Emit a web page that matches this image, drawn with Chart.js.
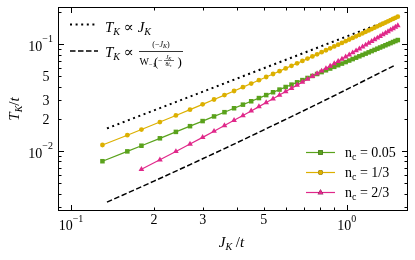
<!DOCTYPE html>
<html>
<head>
<meta charset="utf-8">
<script src="https://cdn.jsdelivr.net/npm/chart.js@4.4.0/dist/chart.umd.min.js"></script>
<style>
  html, body { margin: 0; padding: 0; background: #fff; }
  #wrap { width: 415px; height: 260px; }
</style>
</head>
<body>
<div id="wrap"><canvas id="chart" width="415" height="260"></canvas></div>
<script>
// J_K/t values shared by the three fillings
const jGrid = [0.13, 0.16, 0.18, 0.21, 0.24, 0.27, 0.30, 0.33, 0.36, 0.39,
    0.42, 0.45, 0.48, 0.51, 0.54, 0.57, 0.60, 0.63, 0.66, 0.69,
    0.72, 0.75, 0.78, 0.81, 0.84, 0.87, 0.90, 0.93, 0.96, 0.99,
    1.02, 1.05, 1.08, 1.11, 1.14, 1.17, 1.20, 1.23, 1.26, 1.29,
    1.32, 1.35, 1.38, 1.41, 1.44, 1.47, 1.50, 1.53];

// T_K/t, n_c = 0.05
const tNc005 = [0.00804, 0.00994, 0.01123, 0.01317, 0.01513, 0.01711, 0.01910, 0.02111, 0.02313, 0.02518,
    0.02721, 0.02927, 0.03135, 0.03344, 0.03555, 0.03765, 0.03979, 0.04190, 0.04403, 0.04618,
    0.04834, 0.05052, 0.05269, 0.05488, 0.05707, 0.05925, 0.06147, 0.06369, 0.06591, 0.06813,
    0.07038, 0.07263, 0.07487, 0.07715, 0.07943, 0.08171, 0.08398, 0.08629, 0.08858, 0.09087,
    0.09320, 0.09552, 0.09786, 0.1002, 0.1025, 0.1049, 0.1072, 0.1095];

// T_K/t, n_c = 1/3
const tNc13 = [0.01140, 0.01409, 0.01591, 0.01870, 0.02155, 0.02444, 0.02738, 0.03039, 0.03343, 0.03653,
    0.03968, 0.04286, 0.04607, 0.04937, 0.05268, 0.05604, 0.05943, 0.06283, 0.06631, 0.06982,
    0.07337, 0.07697, 0.08057, 0.08423, 0.08792, 0.09164, 0.09539, 0.09920, 0.1030, 0.1069,
    0.1108, 0.1147, 0.1186, 0.1226, 0.1266, 0.1306, 0.1347, 0.1388, 0.1429, 0.1471,
    0.1513, 0.1555, 0.1597, 0.1640, 0.1683, 0.1726, 0.1769, 0.1813];

// T_K/t, n_c = 2/3 (starts at J = 0.18)
const jNc23 = jGrid.slice(2);
const tNc23 = [0.00675, 0.00829, 0.00992, 0.01164, 0.01344, 0.01535, 0.01733, 0.01940, 0.02154, 0.02377,
    0.02607, 0.02846, 0.03090, 0.03344, 0.03605, 0.03871, 0.04145, 0.04426, 0.04716, 0.05012,
    0.05312, 0.05623, 0.05939, 0.06260, 0.06588, 0.06924, 0.07266, 0.07614, 0.07969, 0.08337,
    0.08703, 0.09075, 0.09461, 0.09847, 0.1024, 0.1064, 0.1104, 0.1146, 0.1187, 0.1230,
    0.1273, 0.1316, 0.1361, 0.1405, 0.1450, 0.1496];

// guide curves
const jLinear = [0.135, 1.5];
const tLinear = [0.0163, 0.177];
const jLambert = [0.135, 0.2, 0.3, 0.4, 0.5, 0.7, 1.0, 1.5];
const tLambert = [0.00333, 0.00524, 0.00847, 0.0120, 0.0158, 0.0240, 0.0378, 0.0640];

// axes
const xRange = [0.0897, 1.666];
const yRange = [0.00275, 0.2232];
const xMajor = [0.1, 1];
const xMinor = [0.09, 0.2, 0.3, 0.4, 0.5, 0.6, 0.7, 0.8, 0.9];
const xTickText = [[0.1, '10', '−1'], [0.2, '2'], [0.3, '3'], [0.5, '5'], [1, '10', '0']];
const yMajor = [0.01, 0.1];
const yMinor = [0.003, 0.004, 0.005, 0.006, 0.007, 0.008, 0.009,
    0.02, 0.03, 0.04, 0.05, 0.06, 0.07, 0.08, 0.09, 0.2];
const yTickText = [[0.01, '10', '−2'], [0.02, '2'], [0.03, '3'], [0.05, '5'], [0.1, '10', '−1']];

const seriesNames = ['0.05', '1/3', '2/3'];
const seriesColors = ['#5aa21c', '#dcb000', '#e0288a'];
const seriesMarkers = ['rect', 'circle', 'triangle'];
const markerRadius = [3.2, 2.4, 3.3];

const serif = '"Liberation Serif", "DejaVu Serif", "Times New Roman", serif';

function pairs(xs, ys) {
    return xs.map((x, i) => ({ x: x, y: ys[i] }));
}

// draw a row of text pieces: [text, size, style, dy]
function drawRuns(ctx, parts, x, y, align) {
    let total = 0;
    const widths = parts.map(p => {
        ctx.font = (p[2] || '') + ' ' + p[1] + 'px ' + serif;
        const w = ctx.measureText(p[0]).width;
        total += w;
        return w;
    });
    let cx = align === 'right' ? x - total : align === 'center' ? x - total / 2 : x;
    parts.forEach((p, i) => {
        ctx.font = (p[2] || '') + ' ' + p[1] + 'px ' + serif;
        ctx.fillText(p[0], cx, y + (p[3] || 0));
        cx += widths[i];
    });
    return total;
}

function seg(ctx, x1, y1, x2, y2) {
    ctx.beginPath();
    ctx.moveTo(x1, y1);
    ctx.lineTo(x2, y2);
    ctx.stroke();
}

const decorations = {
    id: 'decorations',
    afterDraw(chart) {
        const ctx = chart.ctx;
        const a = chart.chartArea;
        const xs = chart.scales.x, ys = chart.scales.y;
        ctx.save();
        ctx.strokeStyle = '#000';
        ctx.fillStyle = '#000';
        ctx.lineWidth = 1;
        ctx.setLineDash([]);

        // frame
        ctx.strokeRect(a.left + 0.5, a.top + 0.5, a.right - a.left - 1, a.bottom - a.top - 1);

        // inward ticks on all four sides
        const xTick = (v, len) => {
            const p = Math.round(xs.getPixelForValue(v)) + 0.5;
            seg(ctx, p, a.bottom, p, a.bottom - len);
            seg(ctx, p, a.top, p, a.top + len);
        };
        const yTick = (v, len) => {
            const p = Math.round(ys.getPixelForValue(v)) + 0.5;
            seg(ctx, a.left, p, a.left + len, p);
            seg(ctx, a.right, p, a.right - len, p);
        };
        xMajor.forEach(v => xTick(v, 6));
        xMinor.forEach(v => xTick(v, 3.5));
        yMajor.forEach(v => yTick(v, 6));
        yMinor.forEach(v => yTick(v, 3.5));

        // tick labels
        ctx.textBaseline = 'alphabetic';
        xTickText.forEach(t => {
            const p = xs.getPixelForValue(t[0]);
            if (t[2] !== undefined) {
                drawRuns(ctx, [[t[1], 14, '', 0], [t[2], 10, '', -8]], p, a.bottom + 18.5, 'center');
            } else {
                drawRuns(ctx, [[t[1], 14, '', 0]], p, a.bottom + 13.3, 'center');
            }
        });
        yTickText.forEach(t => {
            const p = ys.getPixelForValue(t[0]);
            if (t[2] !== undefined) {
                drawRuns(ctx, [[t[1], 14, '', 0], [t[2], 10, '', -9]], a.left - 5, p + 6.8, 'right');
            } else {
                drawRuns(ctx, [[t[1], 14, '', 0]], a.left - 8.5, p + 4.6, 'right');
            }
        });

        // axis titles
        drawRuns(ctx, [['J', 15, 'italic', 0], ['K', 10, 'italic', 3], [' /', 15, '', 0], ['t', 15, 'italic', 0]],
            231.5, 247, 'center');
        ctx.save();
        ctx.translate(18.5, 109);
        ctx.rotate(-Math.PI / 2);
        drawRuns(ctx, [['T', 15, 'italic', 0], ['K', 10, 'italic', 3], ['/', 15, '', 0], ['t', 15, 'italic', 0]],
            0, 0, 'center');
        ctx.restore();

        // guide legend (top left)
        ctx.lineWidth = 2;
        ctx.setLineDash([2, 3.6]);
        seg(ctx, 70, 24.5, 98, 24.5);
        ctx.lineWidth = 1.5;
        ctx.setLineDash([5.5, 2.5]);
        seg(ctx, 70, 51, 98, 51);
        ctx.setLineDash([]);
        drawRuns(ctx, [['T', 15, 'italic', 0], ['K', 10, 'italic', 3], [' ∝ ', 15, '', 0],
            ['J', 15, 'italic', 0], ['K', 10, 'italic', 3]], 105, 31.5);
        drawRuns(ctx, [['T', 15, 'italic', 0], ['K', 10, 'italic', 3], [' ∝', 15, '', 0]], 105, 56.5);
        // fraction
        drawRuns(ctx, [['(−', 8, '', 0], ['J', 8, 'italic', 0], ['K', 6, 'italic', 1.5], [')', 8, '', 0]],
            161, 46.5, 'center');
        ctx.lineWidth = 0.8;
        seg(ctx, 139, 51.5, 183, 51.5);
        drawRuns(ctx, [['W', 10, '', 0], ['−1', 6.5, '', 2]], 139.5, 64.5);
        ctx.font = '13px ' + serif;
        ctx.fillText('(', 154, 65.5);
        ctx.fillText(')', 177.5, 65.5);
        drawRuns(ctx, [['−', 8, '', 0]], 158, 63);
        drawRuns(ctx, [['J', 6, 'italic', 0], ['K', 4.5, 'italic', 1]], 168.5, 59, 'center');
        ctx.lineWidth = 0.6;
        seg(ctx, 164, 60.5, 174, 60.5);
        drawRuns(ctx, [['8', 5.5, '', 0], ['t', 5.5, 'italic', 0], ['c', 4, '', 1]], 168.5, 66, 'center');

        // series legend (bottom right)
        seriesNames.forEach((name, i) => {
            const y = 152.5 + i * 20;
            ctx.strokeStyle = seriesColors[i];
            ctx.lineWidth = 1.2;
            seg(ctx, 306, y, 335, y);
            Chart.helpers.drawPoint(ctx, {
                pointStyle: seriesMarkers[i], radius: markerRadius[i], rotation: 0, borderWidth: 0
            }, 320.5, y);
            ctx.fillStyle = seriesColors[i];
            ctx.fill();
            ctx.fillStyle = '#000';
            drawRuns(ctx, [['n', 14, '', 0], ['c', 10, '', 3], [' = ' + name, 14, '', 0]], 345, y + 4.5);
        });
        ctx.restore();
    }
};

function seriesSet(i, xs, ys) {
    return {
        label: 'n_c = ' + seriesNames[i],
        data: pairs(xs, ys),
        showLine: true,
        borderColor: seriesColors[i],
        backgroundColor: seriesColors[i],
        borderWidth: 1.2,
        pointStyle: seriesMarkers[i],
        pointRadius: markerRadius[i],
        pointBorderWidth: 0,
        pointBackgroundColor: seriesColors[i],
        order: 2 - i
    };
}

const ctx = document.getElementById('chart').getContext('2d');
new Chart(ctx, {
    type: 'scatter',
    data: {
        datasets: [
            {
                label: 'linear',
                data: pairs(jLinear, tLinear),
                showLine: true,
                borderColor: '#000',
                borderWidth: 2,
                borderDash: [2, 3.6],
                pointRadius: 0,
                order: 5
            },
            {
                label: 'lambert',
                data: pairs(jLambert, tLambert),
                showLine: true,
                borderColor: '#000',
                borderWidth: 1.5,
                borderDash: [5.5, 2.5],
                pointRadius: 0,
                cubicInterpolationMode: 'monotone',
                order: 5
            },
            seriesSet(0, jGrid, tNc005),
            seriesSet(1, jGrid, tNc13),
            seriesSet(2, jNc23, tNc23)
        ]
    },
    options: {
        responsive: false,
        animation: false,
        devicePixelRatio: 1,
        layout: { padding: { left: 58, right: 7, top: 7, bottom: 49 } },
        plugins: { legend: { display: false }, tooltip: { enabled: false } },
        scales: {
            x: { type: 'logarithmic', min: xRange[0], max: xRange[1], display: false },
            y: { type: 'logarithmic', min: yRange[0], max: yRange[1], display: false }
        }
    },
    plugins: [decorations]
});
</script>
</body>
</html>
